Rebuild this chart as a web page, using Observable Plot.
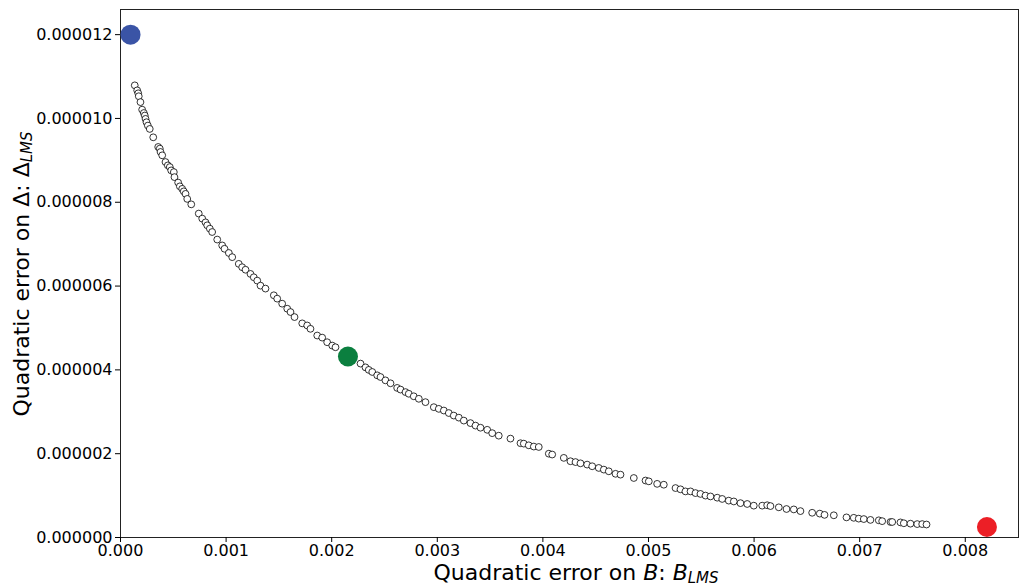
<!DOCTYPE html>
<html><head><meta charset="utf-8">
<script src="https://cdn.jsdelivr.net/npm/d3@7"></script>
<script src="https://cdn.jsdelivr.net/npm/@observablehq/plot@0.6"></script>
<style>body{margin:0;background:#fff;} svg{font-family:"DejaVu Sans",sans-serif;}</style>
</head><body><div id="chart"></div>
<script>
// Pareto front samples: B_LMS error (x, in 1e-3 units) and Delta_LMS error (y, in 1e-6 units)
const bErr = [0.135,0.158,0.168,0.173,0.189,0.205,0.221,0.230,0.237,0.246,0.259,0.277,0.310,0.357,0.372,0.379,0.395,0.426,0.448,0.467,0.480,0.505,0.511,0.546,0.562,0.584,0.599,
0.616,0.632,0.670,0.741,0.774,0.805,0.821,0.846,0.868,0.916,0.963,0.985,1.026,1.058,1.120,1.152,1.184,1.231,1.262,1.295,1.326,1.373,1.452,1.484,1.531,1.579,1.610,1.648,1.721,1.768,1.799,1.863,1.910,1.957,2.005,2.036,
2.273,2.320,2.351,2.384,2.431,2.462,2.509,2.557,2.620,2.652,2.699,2.730,2.777,2.825,2.888,2.967,3.014,3.062,3.109,3.156,3.204,3.251,3.314,3.362,3.409,3.473,3.520,3.582,3.693,3.788,
3.819,3.866,3.914,3.961,4.056,4.088,4.198,4.261,4.309,4.356,4.419,4.467,4.529,4.577,4.624,4.688,4.735,4.861,4.972,5.003,5.082,5.145,5.256,5.303,5.350,5.398,5.445,5.492,5.540,5.587,5.651,5.698,5.760,5.808,5.871,5.935,5.997,
6.077,6.124,6.155,6.234,6.307,6.376,6.439,6.550,6.622,6.667,6.755,6.875,6.944,6.991,7.039,7.102,7.181,7.213,7.292,7.308,7.386,7.418,7.481,7.545,7.592,7.633];
const dErr = [10.79,10.67,10.60,10.53,10.39,10.21,10.13,10.07,9.99,9.91,9.83,9.75,9.55,9.32,9.28,9.20,9.12,8.96,8.88,8.84,8.76,8.72,8.60,8.47,8.38,8.32,8.26,
8.20,8.08,7.95,7.73,7.61,7.52,7.45,7.37,7.29,7.11,6.97,6.89,6.79,6.69,6.53,6.45,6.39,6.29,6.21,6.13,6.01,5.94,5.78,5.70,5.58,5.46,5.38,5.26,5.11,5.06,4.98,4.82,4.77,4.66,4.58,4.54,
4.15,4.06,4.00,3.95,3.87,3.83,3.75,3.68,3.57,3.53,3.47,3.43,3.37,3.31,3.23,3.11,3.07,3.03,2.97,2.91,2.86,2.79,2.73,2.67,2.62,2.57,2.49,2.43,2.36,2.25,
2.24,2.20,2.17,2.16,2.00,1.98,1.90,1.82,1.80,1.77,1.74,1.70,1.66,1.62,1.58,1.52,1.50,1.42,1.36,1.34,1.28,1.26,1.18,1.15,1.10,1.10,1.06,1.04,1.00,0.98,0.95,0.92,0.88,0.86,0.82,0.80,0.76,
0.76,0.77,0.75,0.72,0.68,0.67,0.63,0.59,0.57,0.54,0.53,0.48,0.47,0.45,0.44,0.42,0.41,0.39,0.37,0.37,0.36,0.34,0.33,0.32,0.32,0.31];
const bluePt = [{x: 0.000095, y: 12.0e-6}];
const greenPt = [{x: 0.002154, y: 4.32e-6}];
const redPt = [{x: 0.008205, y: 0.25e-6}];
const xTicks = [0,0.001,0.002,0.003,0.004,0.005,0.006,0.007,0.008];
const yTicks = [0,2e-6,4e-6,6e-6,8e-6,10e-6,12e-6];

const pts = bErr.map((b,i)=>({x: b*1e-3, y: dErr[i]*1e-6}));

const svg = Plot.plot({
  width: 1019, height: 587,
  marginLeft: 120, marginRight: 1, marginTop: 9, marginBottom: 50,
  style: {fontFamily: '"DejaVu Sans", sans-serif', color: "#000", background: "#fff"},
  x: {domain: [0, 0.008504]},
  y: {domain: [0, 12.6e-6]},
  marks: [
    Plot.frame({stroke: "#222", strokeWidth: 1}),
    Plot.axisX({ticks: xTicks, tickFormat: d => d.toFixed(3), tickSize: 5, tickPadding: 2, fontSize: 16, label: null}),
    Plot.axisY({ticks: yTicks, tickFormat: d => d.toFixed(6), tickSize: 5, tickPadding: 3, fontSize: 16, label: null}),
    Plot.dot(pts, {x: "x", y: "y", r: 3.4, stroke: "#000", strokeWidth: 0.8, fill: "white"}),
    Plot.dot(bluePt, {x: "x", y: "y", r: 10, fill: "#3a54a6"}),
    Plot.dot(greenPt, {x: "x", y: "y", r: 10, fill: "#0b7f3f"}),
    Plot.dot(redPt, {x: "x", y: "y", r: 10, fill: "#ec1f26"})
  ]
});
document.getElementById("chart").appendChild(svg);

const s = d3.select(svg);
const xl = s.append("text").attr("x", 576).attr("y", 580).attr("text-anchor", "middle")
  .attr("font-size", 22).attr("fill", "#000");
xl.append("tspan").text("Quadratic error on ");
xl.append("tspan").attr("font-style", "italic").text("B");
xl.append("tspan").text(": ");
xl.append("tspan").attr("font-style", "italic").text("B");
xl.append("tspan").attr("font-style", "italic").attr("font-size", 15).attr("dy", 3).text("LMS");

const yl = s.append("text").attr("transform", "translate(29,274) rotate(-90)").attr("text-anchor", "middle")
  .attr("font-size", 22).attr("fill", "#000");
yl.append("tspan").text("Quadratic error on Δ: Δ");
yl.append("tspan").attr("font-style", "italic").attr("font-size", 15).attr("dy", 3).text("LMS");
</script></body></html>
